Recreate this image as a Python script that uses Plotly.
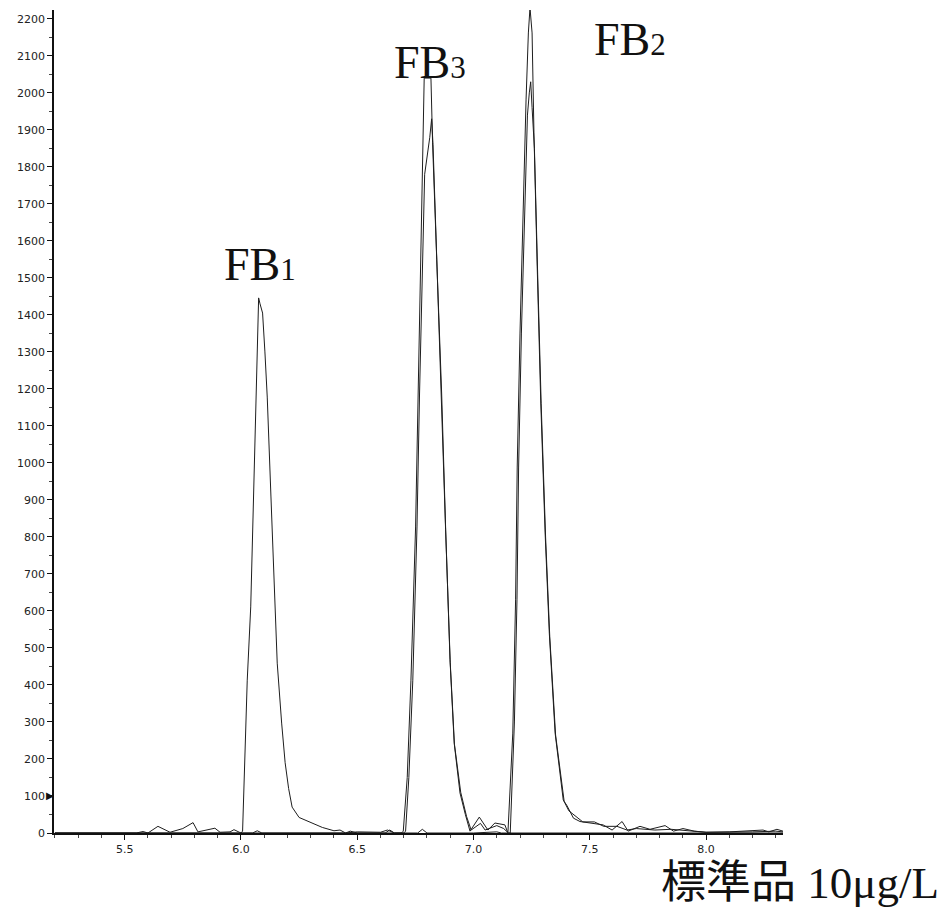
import plotly.graph_objects as go

# Retention time (min) and intensity
t_fb1 = [5.20, 5.55, 5.579, 5.60, 5.643, 5.695, 5.75, 5.794, 5.815, 5.86, 5.888, 5.910, 5.953, 5.97,
         5.987, 6.000, 6.007, 6.017, 6.027, 6.042, 6.049, 6.056, 6.063, 6.070, 6.076, 6.082, 6.093,
         6.103, 6.113, 6.129, 6.141, 6.156, 6.175, 6.190, 6.205, 6.220, 6.250, 6.300, 6.350, 6.400,
         6.426, 6.450, 6.500, 6.600, 6.630, 6.660, 6.760, 6.780, 6.800, 7.000, 7.100, 7.120, 7.500,
         8.000, 8.331]
v_fb1 = [0, 0, 4, 0, 18, 2, 12, 28, 3, 10, 13, 2, 3, 9,
         5, 0, 5, 232, 413, 611, 800, 989, 1170, 1351, 1446, 1430, 1405,
         1300, 1178, 908, 684, 459, 297, 190, 120, 70, 42, 28, 15, 6,
         8, 0, 3, 2, 8, 0, 0, 10, 0, 0, 3, 0, 0,
         2, 0]

t_fb3a = [5.20, 6.050, 6.070, 6.090, 6.450, 6.470, 6.500, 6.620, 6.640, 6.660, 6.690, 6.698, 6.715,
          6.731, 6.751, 6.762, 6.774, 6.781, 6.788, 6.817, 6.824, 6.842, 6.863, 6.880, 6.899, 6.917,
          6.942, 6.965, 6.985, 7.025, 7.062, 7.092, 7.135, 7.148, 7.160, 7.169, 7.181, 7.188, 7.200,
          7.214, 7.226, 7.236, 7.243, 7.252, 7.260, 7.274, 7.289, 7.308, 7.326, 7.351, 7.370, 7.386,
          7.401, 7.430, 7.458, 7.514, 7.557, 7.596, 7.639, 7.665, 7.716, 7.759, 7.824, 7.860, 7.901,
          7.950, 8.000, 8.100, 8.245, 8.270, 8.305, 8.331]
v_fb3a = [0, 0, 6, 0, 0, 5, 0, 0, 8, 0, 0, 5, 150,
          413, 827, 1189, 1549, 1819, 2040, 2040, 1865, 1549, 1189, 827, 468, 243,
          108, 50, 5, 43, 8, 27, 22, 0, 150, 270, 630, 989, 1351,
          1711, 1981, 2162, 2230, 2162, 1892, 1530, 1170, 811, 540, 270, 180, 89,
          75, 40, 31, 27, 22, 8, 31, 5, 18, 10, 20, 5, 12,
          5, 2, 3, 8, 3, 10, 5]

t_fb3b = [5.20, 6.700, 6.708, 6.722, 6.739, 6.757, 6.768, 6.780, 6.790, 6.812, 6.820, 6.826, 6.842,
          6.862, 6.880, 6.900, 6.918, 6.945, 6.970, 6.990, 7.030, 7.050, 7.100, 7.130, 7.150, 7.158,
          7.168, 7.176, 7.187, 7.194, 7.206, 7.220, 7.232, 7.240, 7.246, 7.252, 7.262, 7.276,
          7.291, 7.310, 7.328, 7.353, 7.372, 7.390, 7.410, 7.440, 7.470, 7.520, 7.560, 7.617, 7.660,
          7.700, 7.780, 7.850, 7.950, 8.000, 8.200, 8.300, 8.331]
v_fb3b = [0, 0, 5, 150, 413, 827, 1189, 1549, 1780, 1880, 1930, 1860, 1540,
          1180, 820, 460, 240, 110, 45, 8, 26, 8, 20, 12, 0, 0,
          150, 300, 630, 989, 1351, 1711, 1940, 2000, 2030, 1960, 1850, 1510,
          1160, 800, 530, 265, 170, 85, 60, 45, 30, 30, 18, 18, 8,
          12, 8, 10, 4, 2, 3, 5, 3]

y_ticks = list(range(0, 2201, 100))
x_ticks = [5.5, 6.0, 6.5, 7.0, 7.5, 8.0]
x_labels = ["5.5", "6.0", "6.5", "7.0", "7.5", "8.0"]

peak_names = ["FB<span style='font-size:31px'>1</span>",
              "FB<span style='font-size:31px'>3</span>",
              "FB<span style='font-size:31px'>2</span>"]
peak_x = [6.082, 6.813, 7.673]
peak_y = [1535, 2081, 2143]
caption = "標準品 10μg/L"

fig = go.Figure()
for tx, vy in [(t_fb1, v_fb1), (t_fb3a, v_fb3a), (t_fb3b, v_fb3b)]:
    fig.add_trace(go.Scatter(x=tx, y=vy, mode="lines",
                             line=dict(color="#1e1e1e", width=1),
                             showlegend=False, hoverinfo="skip"))

for name, px, py in zip(peak_names, peak_x, peak_y):
    fig.add_annotation(x=px, y=py, xref="x", yref="y", text=name, showarrow=False,
                       font=dict(family="Liberation Serif, Times New Roman, serif", size=46, color="#111"),
                       xanchor="center", yanchor="middle")

fig.add_annotation(x=1.217, y=-0.061, xref="paper", yref="paper", text=caption, showarrow=False,
                   font=dict(family="Liberation Serif, Noto Sans CJK JP, serif", size=45, color="#111"),
                   xanchor="right", yanchor="middle")

fig.add_annotation(x=-0.006, y=100, xref="paper", yref="y", text="▶", showarrow=False,
                   font=dict(family="DejaVu Sans", size=10, color="#111"),
                   xanchor="center", yanchor="middle")

fig.update_layout(
    width=943, height=910,
    margin=dict(l=54, r=160, t=10, b=77),
    paper_bgcolor="white", plot_bgcolor="white",
    xaxis=dict(range=[5.196, 8.331], tickvals=x_ticks, ticktext=x_labels,
               showgrid=False, zeroline=False, showline=True, linecolor="#111", linewidth=1.5,
               ticks="outside", ticklen=5, tickcolor="#111",
               minor=dict(ticks="outside", dtick=0.1, ticklen=3, tickcolor="#444"),
               tickfont=dict(family="DejaVu Sans, Arial", size=11, color="#222")),
    yaxis=dict(range=[0, 2224], tickvals=y_ticks, showgrid=False, zeroline=False,
               showline=True, linecolor="#111", linewidth=1.5,
               ticks="outside", ticklen=5, tickcolor="#111",
               minor=dict(ticks="outside", dtick=50, ticklen=3, tickcolor="#444"),
               tickfont=dict(family="DejaVu Sans, Arial", size=11, color="#222")),
)

fig.write_html("out.html")
